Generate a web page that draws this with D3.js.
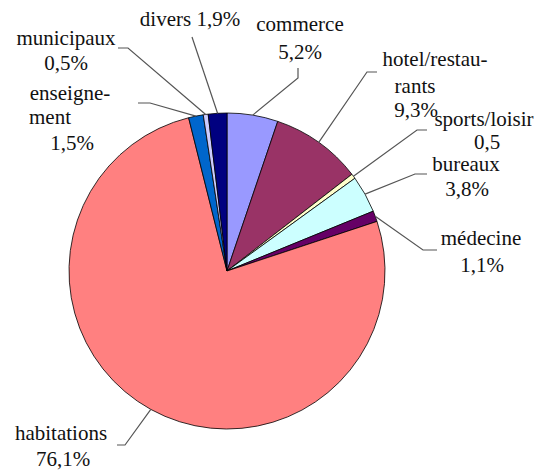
<!DOCTYPE html>
<html><head><meta charset="utf-8">
<script src="https://cdn.jsdelivr.net/npm/d3@7"></script>
<style>
html,body{margin:0;background:#fff;font-family:"Liberation Serif",serif !important}
svg{display:block}
svg text{font-family:"Liberation Serif",serif !important;font-size:21px}
</style>
</head><body>
<svg id="c" width="539" height="470" style="font-family:'Liberation Serif',serif"></svg>
<script>
const categories = ["commerce","hotel/restaurants","sports/loisir","bureaux","médecine","habitations","enseignement","municipaux","divers"];
const values = [5.2, 9.3, 0.5, 3.8, 1.1, 76.1, 1.5, 0.5, 1.9];
const valueLabels = ["5,2%","9,3%","0,5","3,8%","1,1%","76,1%","1,5%","0,5%","1,9%"];
const colors = ["#9999FF","#993366","#FFFFCC","#CCFFFF","#660066","#FF8080","#0066CC","#CCCCFF","#000080"];

// label layout (text lines with their centre positions, leader elbow & end)
const layout = [
  {lines:[["commerce",300,24],["5,2%",300,52]], elbow:[298,78], end:[298,68]},
  {lines:[["hotel/restau-",435,59],["rants",415,86],["9,3%",416,110]], elbow:[367,72], end:[377,72]},
  {lines:[["sports/loisir",484,119],["0,5",487,142]], elbow:[417,130], end:[427,130]},
  {lines:[["bureaux",466,164],["3,8%",467,189]], elbow:[415,174], end:[427,174]},
  {lines:[["médecine",481,238],["1,1%",482,265]], elbow:[423,250], end:[437,250]},
  {lines:[["habitations",61,433],["76,1%",63,459]], elbow:[125,445], end:[117,445]},
  {lines:[["enseigne-",70,93],["ment",50,117],["1,5%",72,143]], elbow:[150,103], end:[138,103]},
  {lines:[["municipaux",66,38],["0,5%",66,63]], elbow:[128,48], end:[118,48]},
  {lines:[["divers 1,9%",190,19]], elbow:[192,37], end:[192,37]}
];

const cx = 227, cy = 271, r = 158;
const svg = d3.select("#c");
const g = svg.append("g").attr("transform", `translate(${cx},${cy})`);
const pie = d3.pie().sort(null).value(d => d.v);
const data = categories.map((c,i)=>({c, v: values[i], i}));
const arcs = pie(data);
const arc = d3.arc().innerRadius(0).outerRadius(r);
const edge = d3.arc().innerRadius(r).outerRadius(r);

g.selectAll("path.s").data(arcs).join("path")
  .attr("class","s")
  .attr("d", arc)
  .attr("fill", d => colors[d.data.i])
  .attr("stroke", "#000")
  .attr("stroke-width", 0.8)
  .attr("stroke-linejoin","round");

// leader lines
svg.selectAll("polyline.l").data(arcs).join("polyline")
  .attr("class","l")
  .attr("fill","none")
  .attr("stroke","#555")
  .attr("stroke-width",1.2)
  .attr("points", d => {
    const p = edge.centroid(d);
    const L = layout[d.data.i];
    return [[p[0]+cx, p[1]+cy], L.elbow, L.end].map(q=>q.join(",")).join(" ");
  });

// labels
const lbl = svg.append("g").attr("fill","#111").attr("font-family","Liberation Serif");
layout.forEach((L,i) => {
  L.lines.forEach(([t,x,y]) => {
    lbl.append("text").attr("x",x).attr("y",y).attr("dy","0.35em")
      .attr("text-anchor","middle").text(t);
  });
});
</script>
</body></html>
